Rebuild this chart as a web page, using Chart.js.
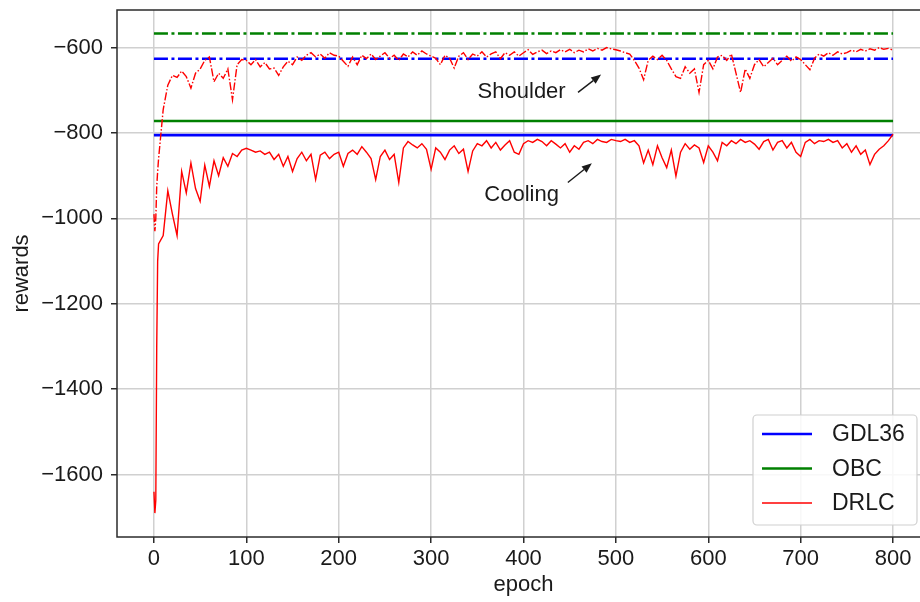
<!DOCTYPE html>
<html>
<head>
<meta charset="utf-8">
<script src="https://cdn.jsdelivr.net/npm/chart.js@4.4.1/dist/chart.umd.min.js"></script>
<style>
  html, body { margin: 0; padding: 0; background: #fff; overflow: hidden; }
  canvas { display: block; }
</style>
</head>
<body>
<canvas id="chart" width="940" height="602"></canvas>
<script>
// Epochs: every epoch at the very start, then every 5th
const epochs = [0, 1, 2, 3, 4];
for (let e = 5; e <= 800; e += 5) epochs.push(e);

// DRLC reward, cooling phase (solid)
const drlcCooling = [
  -1640, -1690, -1660, -1300, -1100,
  -1060, -1040, -935, -990, -1040, -890, -940, -870, -930, -960,
  -875, -925, -865, -900, -858, -878, -848, -855, -840, -836,
  -840, -845, -842, -850, -845, -862, -850, -878, -855, -890,
  -860, -845, -865, -850, -909, -852, -845, -860, -850, -845,
  -878, -848, -840, -850, -832, -845, -860, -909, -855, -840,
  -862, -850, -916, -835, -820, -828, -835, -825, -838, -885,
  -835, -845, -862, -840, -830, -848, -838, -890, -842, -825,
  -830, -818, -835, -822, -840, -828, -818, -845, -850, -825,
  -818, -822, -815, -820, -830, -818, -826, -835, -825, -845,
  -830, -838, -822, -818, -825, -815, -820, -822, -815, -818,
  -820, -815, -822, -818, -830, -870, -840, -874, -830, -858,
  -881, -840, -901, -845, -825, -838, -828, -835, -869, -830,
  -845, -865, -822, -830, -818, -825, -815, -822, -818, -826,
  -838, -820, -815, -840, -822, -818, -835, -822, -845, -855,
  -822, -815, -825, -818, -820, -815, -822, -818, -835, -825,
  -845, -830, -850, -840, -874, -850, -838, -830, -818, -803
];

// DRLC reward, shoulder phase (dash-dot)
const drlcShoulder = [
  -990, -1030, -1000, -925, -890,
  -860, -745, -688, -665, -670, -655, -668, -695, -660, -650,
  -630, -622, -680, -660, -672, -650, -722, -640, -628, -630,
  -640, -628, -645, -635, -650, -648, -665, -645, -632, -640,
  -622, -630, -618, -612, -622, -615, -625, -612, -618, -620,
  -632, -644, -622, -640, -618, -626, -615, -628, -620, -612,
  -625, -618, -630, -615, -622, -610, -618, -608, -615, -620,
  -625, -640, -618, -625, -648, -620, -612, -628, -615, -620,
  -610, -622, -615, -610, -626, -612, -618, -610, -620, -612,
  -605, -616, -610, -606, -614, -608, -612, -605, -610, -604,
  -612, -606, -610, -603, -608, -602, -606, -600, -603, -605,
  -608, -612, -615, -630, -648, -675, -630, -620, -628, -618,
  -630, -650, -668, -672, -645, -660, -650, -705, -640, -630,
  -650, -622, -618, -630, -615, -660, -705, -650, -672, -640,
  -628, -645, -635, -625, -640, -630, -620, -632, -622, -628,
  -640, -652, -625, -615, -620, -612, -618, -610, -615, -612,
  -606, -610, -604, -608, -603, -606, -600, -604, -602, -606
];

// Baseline controllers (constant reward)
const gdl36Cooling = -805;
const obcCooling = -772;
const gdl36Shoulder = -626;
const obcShoulder = -567;

const xTicks = [0, 100, 200, 300, 400, 500, 600, 700, 800];
const yTicks = [-1600, -1400, -1200, -1000, -800, -600];

const notes = [
  { text: 'Shoulder', at: [398, -705], tail: [459, -705], tip: [484, -663] },
  { text: 'Cooling', at: [398, -946], tail: [448, -916], tip: [474, -871] }
];

const FONT = '"Liberation Sans", Arial, sans-serif';
const INK = '#1a1a1a';
const dashDot = [14, 3.5, 3, 3.5];

const series = vals => vals.map((v, i) => ({ x: epochs[i], y: v }));
const flat = v => [{ x: epochs[0], y: v }, { x: epochs[epochs.length - 1], y: v }];

// spines round the plot area
const frame = {
  id: 'frame',
  afterDatasetsDraw(chart) {
    const { ctx, chartArea: a } = chart;
    ctx.save();
    ctx.strokeStyle = '#2b2b2b';
    ctx.lineWidth = 1.5;
    ctx.strokeRect(a.left, a.top, a.right - a.left, a.bottom - a.top);
    ctx.restore();
  }
};

// arrows with text labels
const arrows = {
  id: 'arrows',
  afterDatasetsDraw(chart) {
    const { ctx, scales: { x, y } } = chart;
    ctx.save();
    ctx.font = '22px ' + FONT;
    ctx.fillStyle = INK;
    ctx.strokeStyle = INK;
    ctx.textAlign = 'center';
    ctx.textBaseline = 'middle';
    notes.forEach(n => {
      ctx.fillText(n.text, x.getPixelForValue(n.at[0]), y.getPixelForValue(n.at[1]));
      const x0 = x.getPixelForValue(n.tail[0]), y0 = y.getPixelForValue(n.tail[1]);
      const x1 = x.getPixelForValue(n.tip[0]), y1 = y.getPixelForValue(n.tip[1]);
      const ang = Math.atan2(y1 - y0, x1 - x0);
      const head = 10, half = 4;
      ctx.lineWidth = 1.4;
      ctx.beginPath();
      ctx.moveTo(x0, y0);
      ctx.lineTo(x1 - head * Math.cos(ang), y1 - head * Math.sin(ang));
      ctx.stroke();
      ctx.beginPath();
      ctx.moveTo(x1, y1);
      ctx.lineTo(x1 - head * Math.cos(ang) + half * Math.sin(ang), y1 - head * Math.sin(ang) - half * Math.cos(ang));
      ctx.lineTo(x1 - head * Math.cos(ang) - half * Math.sin(ang), y1 - head * Math.sin(ang) + half * Math.cos(ang));
      ctx.closePath();
      ctx.fill();
    });
    ctx.restore();
  }
};

// framed legend in the lower right corner
const boxLegend = {
  id: 'boxLegend',
  afterDraw(chart) {
    const { ctx, chartArea: a } = chart;
    const items = chart.data.datasets.filter(d => d.label);
    const w = 164, rowH = 34.5, h = 110;
    const left = 753, top = a.bottom - 12 - h;
    ctx.save();
    ctx.beginPath();
    ctx.roundRect(left, top, w, h, 4);
    ctx.fillStyle = 'rgba(255,255,255,0.85)';
    ctx.fill();
    ctx.strokeStyle = '#d0d0d0';
    ctx.lineWidth = 1.2;
    ctx.stroke();
    ctx.font = '23px ' + FONT;
    ctx.textBaseline = 'middle';
    ctx.textAlign = 'left';
    items.forEach((d, i) => {
      const cy = top + 19 + i * rowH;
      ctx.strokeStyle = d.borderColor;
      ctx.lineWidth = d.borderWidth;
      ctx.beginPath();
      ctx.moveTo(left + 9, cy);
      ctx.lineTo(left + 59, cy);
      ctx.stroke();
      ctx.fillStyle = INK;
      ctx.fillText(d.label, left + 79, cy + 1);
    });
    ctx.restore();
  }
};

new Chart(document.getElementById('chart'), {
  type: 'line',
  data: {
    datasets: [
      { label: 'GDL36', data: flat(gdl36Cooling), borderColor: '#0000ff', borderWidth: 2.6, order: 1 },
      { label: 'OBC', data: flat(obcCooling), borderColor: '#008000', borderWidth: 2.6, order: 1 },
      { label: 'DRLC', data: series(drlcCooling), borderColor: '#ff0000', borderWidth: 1.4, order: 0 },
      { data: flat(gdl36Shoulder), borderColor: '#0000ff', borderWidth: 2.6, borderDash: dashDot, order: 1 },
      { data: flat(obcShoulder), borderColor: '#008000', borderWidth: 2.6, borderDash: dashDot, order: 1 },
      { data: series(drlcShoulder), borderColor: '#ff0000', borderWidth: 1.4, borderDash: [8, 2, 1.5, 2], order: 0 }
    ]
  },
  options: {
    responsive: false,
    animation: false,
    layout: { padding: { left: 0, right: 10, top: 10, bottom: 0 } },
    elements: { point: { radius: 0 }, line: { tension: 0, fill: false } },
    plugins: { legend: { display: false }, tooltip: { enabled: false } },
    scales: {
      x: {
        type: 'linear',
        min: -40,
        max: 840,
        afterBuildTicks: s => { s.ticks = xTicks.map(v => ({ value: v })); },
        afterFit: s => { s.height = 65; s.paddingLeft = 0; s.paddingRight = 0; },
        ticks: { font: { family: FONT, size: 22 }, color: INK, padding: 3, maxRotation: 0 },
        grid: { color: '#d0d0d0', lineWidth: 1.5, tickColor: '#2b2b2b', tickLength: 6, tickWidth: 1.5 },
        border: { display: false },
        title: { display: true, text: 'epoch', font: { family: FONT, size: 22 }, color: INK, padding: { top: 0, bottom: 4 } }
      },
      y: {
        min: -1746,
        max: -512,
        afterBuildTicks: s => { s.ticks = yTicks.map(v => ({ value: v })); },
        afterFit: s => { s.width = 117; s.paddingTop = 0; s.paddingBottom = 0; },
        ticks: {
          font: { family: FONT, size: 22 }, color: INK, padding: 8,
          callback: v => (v < 0 ? '\u2212' : '') + Math.abs(v)
        },
        grid: { color: '#d0d0d0', lineWidth: 1.5, tickColor: '#2b2b2b', tickLength: 6, tickWidth: 1.5 },
        border: { display: false },
        title: { display: true, text: 'rewards', font: { family: FONT, size: 22 }, color: INK, padding: { top: 9, bottom: 0 } }
      }
    }
  },
  plugins: [frame, arrows, boxLegend]
});
</script>
</body>
</html>
